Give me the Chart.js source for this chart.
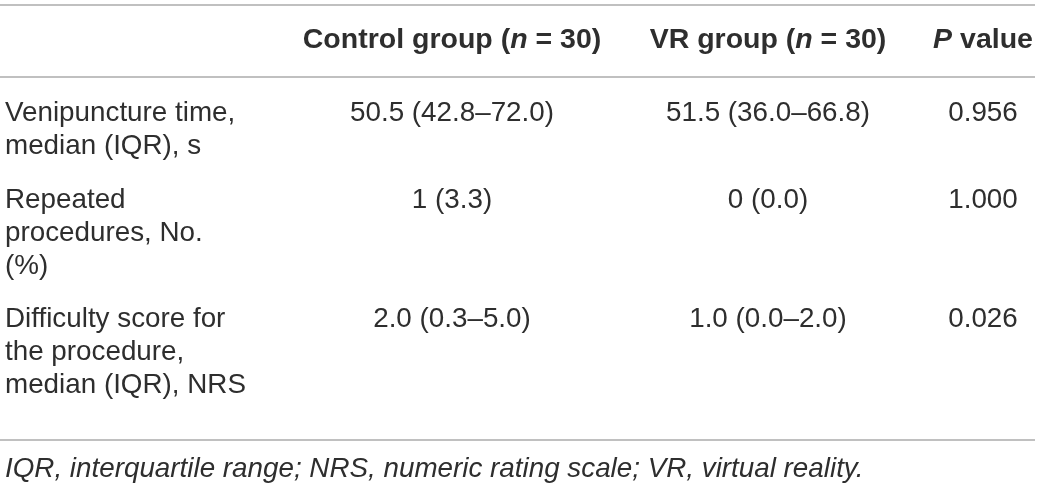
<!DOCTYPE html>
<html>
<head>
<meta charset="utf-8">
<script src="https://cdn.jsdelivr.net/npm/chart.js@4"></script>
<style>
  html, body { margin: 0; padding: 0; background: #ffffff; }
  #wrap { width: 1040px; height: 488px; }
</style>
</head>
<body>
<div id="wrap"><canvas id="c" width="1040" height="488"></canvas></div>
<script>
// ---- Table content ----
const headerControl = [["Control group (", false], ["n", true], [" = 30)", false]];
const headerVR = [["VR group (", false], ["n", true], [" = 30)", false]];
const headerP = [["P", true], [" value", false]];
const rowLabels = [
  ["Venipuncture time,", "median (IQR), s"],
  ["Repeated", "procedures, No.", "(%)"],
  ["Difficulty score for", "the procedure,", "median (IQR), NRS"]
];
const controlValues = ["50.5 (42.8–72.0)", "1 (3.3)", "2.0 (0.3–5.0)"];
const vrValues = ["51.5 (36.0–66.8)", "0 (0.0)", "1.0 (0.0–2.0)"];
const pValues = ["0.956", "1.000", "0.026"];
const footnote = "IQR, interquartile range; NRS, numeric rating scale; VR, virtual reality.";

// ---- Layout (style only) ----
const FONT = '"Liberation Sans", Arial, sans-serif';
const SIZE = 27.8;
const BOLD_SIZE = 28.5;
const TEXT = '#2e2e2e';
const RULE = '#ababab';
const colLeft = 5;
const colCenters = [452, 768, 983];
const headerY = 40;
const rowFirstY = [113, 200, 319];
const lineGap = 33.3;
const rules = [5, 77, 440];
const footY = 469;

const tablePlugin = {
  id: 'tablePlugin',
  afterDraw(chart) {
    const ctx = chart.ctx;
    const xs = chart.scales.x, ys = chart.scales.y;
    const X = v => xs.getPixelForValue(v);
    const Y = v => ys.getPixelForValue(v);
    ctx.save();
    // rules
    ctx.strokeStyle = RULE;
    ctx.lineWidth = 1.5;
    rules.forEach(r => {
      ctx.beginPath();
      ctx.moveTo(X(0), Y(r));
      ctx.lineTo(X(1035), Y(r));
      ctx.stroke();
    });
    ctx.fillStyle = TEXT;
    ctx.textBaseline = 'middle';
    // header runs, centered
    function runs(parts, cx, cy) {
      let total = 0;
      const fonts = parts.map(p => (p[1] ? 'italic ' : '') + 'bold ' + BOLD_SIZE + 'px ' + FONT);
      parts.forEach((p, i) => { ctx.font = fonts[i]; total += ctx.measureText(p[0]).width; });
      let x = X(cx) - total / 2;
      ctx.textAlign = 'left';
      parts.forEach((p, i) => {
        ctx.font = fonts[i];
        ctx.fillText(p[0], x, Y(cy));
        x += ctx.measureText(p[0]).width;
      });
    }
    runs(headerControl, colCenters[0], headerY);
    runs(headerVR, colCenters[1], headerY);
    runs(headerP, colCenters[2], headerY);
    // body
    ctx.font = SIZE + 'px ' + FONT;
    rowLabels.forEach((lines, r) => {
      ctx.textAlign = 'left';
      lines.forEach((t, k) => ctx.fillText(t, X(colLeft), Y(rowFirstY[r] + k * lineGap)));
      ctx.textAlign = 'center';
      ctx.fillText(controlValues[r], X(colCenters[0]), Y(rowFirstY[r]));
      ctx.fillText(vrValues[r], X(colCenters[1]), Y(rowFirstY[r]));
      ctx.fillText(pValues[r], X(colCenters[2]), Y(rowFirstY[r]));
    });
    // footnote
    ctx.font = 'italic ' + SIZE + 'px ' + FONT;
    ctx.textAlign = 'left';
    ctx.fillText(footnote, X(colLeft), Y(footY));
    ctx.restore();
  }
};

new Chart(document.getElementById('c'), {
  type: 'scatter',
  data: { datasets: [{ data: [] }] },
  options: {
    responsive: false,
    animation: false,
    events: [],
    layout: { padding: 0 },
    plugins: { legend: { display: false }, tooltip: { enabled: false } },
    scales: {
      x: { type: 'linear', min: 0, max: 1040, display: false },
      y: { type: 'linear', min: 0, max: 488, reverse: true, display: false }
    }
  },
  plugins: [tablePlugin]
});
</script>
</body>
</html>
